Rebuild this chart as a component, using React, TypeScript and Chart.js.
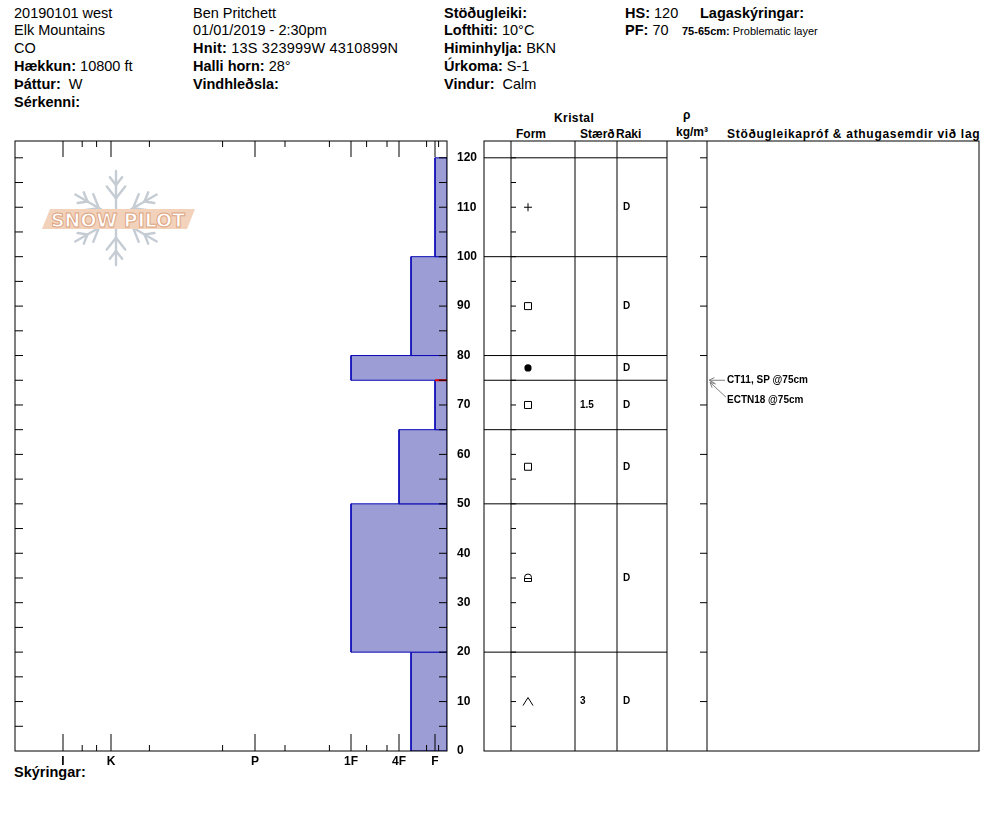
import React, { useEffect, useRef } from "react";
import { Chart, registerables } from "chart.js";
Chart.register(...registerables);

const FONT = "'Liberation Sans', Arial, Helvetica, sans-serif";

// ---------------- data ----------------
const layerTops = [120, 100, 80, 75, 65, 50, 20];
const layerBottoms = [100, 80, 75, 65, 50, 20, 0];
const layerHardness = [1, 3, 8, 1, 4, 8, 3];
const layerGrainForms = ["PP", "FC", "MF", "FC", "FC", "FCxr", "DH"];
const layerGrainSizes = ["", "", "", "1.5", "", "", "3"];
const layerMoisture = ["D", "D", "D", "D", "D", "D", "D"];

const hardnessTickValues = [32, 28, 16, 8, 4, 1];
const hardnessTickLabels = ["I", "K", "P", "1F", "4F", "F"];
const hardnessMinorTicks = [30.4, 29.2, 24.8, 18.7, 13.5, 9.8, 6.7, 5, 1.7, 0.7];

const testDepths = [75, 75];
const testLabels = ["CT11, SP @75cm", "ECTN18 @75cm"];

// ---------------- layout constants ----------------
const HMAX = 36;
const YMAX = 123.4;
const FILL = "rgb(157,157,214)";
const EDGE = "rgb(10,10,180)";
// table columns (x units = px offset from table left edge)
const COL_FORM = 27;
const COL_SIZE = 91;
const COL_RAKI = 133;
const COL_RHO = 183;
const COL_COMM = 223;
const COL_END = 495;

function zeroPad(s: any) {
  s.paddingTop = 0;
  s.paddingBottom = 0;
  s.paddingLeft = 0;
  s.paddingRight = 0;
}

function leftFramePlugin() {
  return {
    id: "leftFrame",
    afterDatasetsDraw(chart: any) {
      const { ctx, chartArea: a, scales } = chart;
      const x = scales.x, y = scales.y;
      ctx.save();
      ctx.strokeStyle = "#000";
      ctx.lineWidth = 1;
      ctx.strokeRect(a.left, a.top, a.right - a.left, a.bottom - a.top);
      ctx.beginPath();
      for (let d = 5; d <= 120; d += 5) {
        const py = y.getPixelForValue(d);
        ctx.moveTo(a.left, py);
        ctx.lineTo(a.left + 8, py);
        ctx.moveTo(a.right, py);
        ctx.lineTo(a.right - 8, py);
      }
      hardnessTickValues.forEach((v) => {
        const px = x.getPixelForValue(v);
        ctx.moveTo(px, a.top);
        ctx.lineTo(px, a.top + 16);
        ctx.moveTo(px, a.bottom);
        ctx.lineTo(px, a.bottom - 17);
      });
      hardnessMinorTicks.forEach((v) => {
        const px = x.getPixelForValue(v);
        ctx.moveTo(px, a.top);
        ctx.lineTo(px, a.top + 6);
        ctx.moveTo(px, a.bottom);
        ctx.lineTo(px, a.bottom - 6);
      });
      ctx.stroke();
      ctx.restore();
    },
  };
}

function drawGrain(ctx: CanvasRenderingContext2D, code: string, cx: number, cy: number) {
  ctx.beginPath();
  if (code === "PP") {
    ctx.moveTo(cx - 4, cy);
    ctx.lineTo(cx + 4, cy);
    ctx.moveTo(cx, cy - 4);
    ctx.lineTo(cx, cy + 4);
    ctx.stroke();
  } else if (code === "FC") {
    ctx.rect(cx - 3.5, cy - 3.5, 7, 7);
    ctx.stroke();
  } else if (code === "MF") {
    ctx.arc(cx, cy, 3.6, 0, Math.PI * 2);
    ctx.fill();
  } else if (code === "FCxr") {
    ctx.moveTo(cx - 3.5, cy + 3.5);
    ctx.lineTo(cx + 3.5, cy + 3.5);
    ctx.lineTo(cx + 3.5, cy - 0.5);
    ctx.arc(cx, cy - 0.5, 3.5, 0, Math.PI, true);
    ctx.lineTo(cx - 3.5, cy + 3.5);
    ctx.moveTo(cx - 3.5, cy + 0.5);
    ctx.lineTo(cx + 3.5, cy + 0.5);
    ctx.stroke();
  } else if (code === "DH") {
    ctx.moveTo(cx - 5, cy + 4);
    ctx.lineTo(cx, cy - 4);
    ctx.lineTo(cx + 5, cy + 4);
    ctx.stroke();
  }
}

function arrow(ctx: CanvasRenderingContext2D, x1: number, y1: number, x2: number, y2: number) {
  const a = Math.atan2(y2 - y1, x2 - x1);
  const L = 6, w = 0.45;
  ctx.beginPath();
  ctx.moveTo(x1, y1);
  ctx.lineTo(x2, y2);
  ctx.moveTo(x2 - L * Math.cos(a - w), y2 - L * Math.sin(a - w));
  ctx.lineTo(x2, y2);
  ctx.lineTo(x2 - L * Math.cos(a + w), y2 - L * Math.sin(a + w));
  ctx.stroke();
}

function tablePlugin() {
  return {
    id: "tableDraw",
    afterDatasetsDraw(chart: any) {
      const { ctx, chartArea: a, scales } = chart;
      const x = scales.x, y = scales.y;
      ctx.save();
      ctx.strokeStyle = "#000";
      ctx.fillStyle = "#000";
      ctx.lineWidth = 1;
      ctx.strokeRect(a.left, a.top, a.right - a.left, a.bottom - a.top);
      ctx.beginPath();
      [COL_FORM, COL_SIZE, COL_RAKI, COL_RHO, COL_COMM].forEach((c) => {
        const px = x.getPixelForValue(c);
        ctx.moveTo(px, a.top);
        ctx.lineTo(px, a.bottom);
      });
      const pf = x.getPixelForValue(COL_FORM);
      for (let d = 5; d <= 120; d += 5) {
        const py = y.getPixelForValue(d);
        ctx.moveTo(pf, py);
        ctx.lineTo(pf + 5, py);
      }
      const pc = x.getPixelForValue(COL_COMM);
      for (let d = 10; d <= 120; d += 10) {
        const py = y.getPixelForValue(d);
        ctx.moveTo(pc, py);
        ctx.lineTo(pc - 7, py);
      }
      ctx.stroke();

      ctx.font = `bold 10px ${FONT}`;
      ctx.textBaseline = "middle";
      ctx.textAlign = "left";
      layerTops.forEach((top, i) => {
        const mid = (top + layerBottoms[i]) / 2;
        const py = y.getPixelForValue(mid);
        drawGrain(ctx, layerGrainForms[i], x.getPixelForValue(44), py);
        if (layerGrainSizes[i]) ctx.fillText(layerGrainSizes[i], x.getPixelForValue(96), py);
        if (layerMoisture[i]) ctx.fillText(layerMoisture[i], x.getPixelForValue(139), py);
      });

      ctx.strokeStyle = "#808080";
      testDepths.forEach((d, i) => {
        const py = y.getPixelForValue(d);
        const ty = py + i * 20;
        ctx.fillStyle = "#000";
        ctx.fillText(testLabels[i], x.getPixelForValue(243), ty);
        if (i === 0) arrow(ctx, x.getPixelForValue(241), py, pc + 2, py);
        else arrow(ctx, x.getPixelForValue(242), ty - 3, pc + 3, py + 2);
      });
      ctx.restore();
    },
  };
}

function leftConfig(): any {
  const redTopHardness = testDepths.map((d) => {
    const idx = layerTops.indexOf(d);
    return idx >= 0 ? layerHardness[idx] : 0;
  });
  const marker = {
    data: [
      { x: 0, y: testDepths[0] },
      { x: redTopHardness[0], y: testDepths[0] },
    ],
    showLine: true,
    borderColor: "#e00000",
    borderWidth: 2,
    pointRadius: 0,
    fill: false,
  };
  const layers = layerTops.map((top, i) => {
    const bot = layerBottoms[i];
    const h = layerHardness[i];
    return {
      data: [
        { x: 0, y: top },
        { x: h, y: top },
        { x: h, y: bot },
        { x: 0, y: bot },
        { x: 0, y: top },
      ],
      showLine: true,
      fill: "shape",
      backgroundColor: FILL,
      borderColor: EDGE,
      borderWidth: 1,
      pointRadius: 0,
    };
  });
  return {
    type: "scatter",
    data: { datasets: [marker, ...layers] },
    options: {
      responsive: false,
      animation: false,
      events: [],
      layout: { padding: { left: 15, top: 11, right: 0, bottom: 19 } },
      plugins: { legend: { display: false }, tooltip: { enabled: false } },
      scales: {
        x: {
          type: "linear",
          position: "bottom",
          reverse: true,
          min: 0,
          max: HMAX,
          afterBuildTicks: (s: any) => {
            s.ticks = hardnessTickValues.map((v) => ({ value: v }));
          },
          afterFit: (s: any) => {
            s.height = 20;
            zeroPad(s);
          },
          grid: { display: false, drawTicks: false },
          border: { display: false },
          ticks: {
            autoSkip: false,
            maxRotation: 0,
            padding: 3,
            color: "#000",
            font: { size: 12, weight: "bold" },
            callback: (v: number) => hardnessTickLabels[hardnessTickValues.indexOf(v)],
          },
        },
        y: {
          type: "linear",
          position: "right",
          min: 0,
          max: YMAX,
          afterFit: (s: any) => {
            s.width = 37;
            zeroPad(s);
          },
          grid: { display: false, drawTicks: false },
          border: { display: false },
          ticks: {
            stepSize: 10,
            includeBounds: false,
            padding: 10,
            color: "#000",
            font: { size: 12, weight: "bold" },
          },
        },
      },
    },
    plugins: [leftFramePlugin()],
  };
}

function tableConfig(): any {
  const boundaries = layerTops.map((b) => ({
    data: [
      { x: 0, y: b },
      { x: COL_RHO, y: b },
    ],
    showLine: true,
    borderColor: "#000",
    borderWidth: 1,
    pointRadius: 0,
    fill: false,
  }));
  return {
    type: "scatter",
    data: { datasets: boundaries },
    options: {
      responsive: false,
      animation: false,
      events: [],
      layout: { padding: { left: 14, top: 11, right: 15, bottom: 39 } },
      plugins: { legend: { display: false }, tooltip: { enabled: false } },
      scales: {
        x: { type: "linear", display: false, min: 0, max: COL_END },
        y: { type: "linear", display: false, min: 0, max: YMAX },
      },
    },
    plugins: [tablePlugin()],
  };
}

const T = ({ x, b, s = 14.5, w = 400, ls = 0, children }: any) => (
  <div
    style={{
      position: "absolute",
      left: x,
      top: b - s * 0.9465,
      fontSize: s,
      lineHeight: `${s * 1.2}px`,
      fontWeight: w,
      letterSpacing: ls,
      whiteSpace: "nowrap",
      fontFamily: FONT,
      color: "#000",
    }}
  >
    {children}
  </div>
);

function Logo() {
  const cx = 116, cy = 218, R = 47;
  const lines: any[] = [];
  for (let k = 0; k < 6; k++) {
    const ang = ((k * 60 - 90) * Math.PI) / 180;
    const dx = Math.cos(ang), dy = Math.sin(ang);
    lines.push([cx, cy, cx + dx * R, cy + dy * R]);
    [
      [0.42, 15],
      [0.7, 10],
    ].forEach(([t, L]) => {
      const bx = cx + dx * R * t, by = cy + dy * R * t;
      [-1, 1].forEach((s) => {
        const a2 = ang + (s * 38 * Math.PI) / 180;
        lines.push([bx, by, bx + Math.cos(a2) * L, by + Math.sin(a2) * L]);
      });
    });
  }
  return (
    <svg style={{ position: "absolute", left: 0, top: 0 }} width={240} height={300}>
      <g stroke="#c5ccd3" strokeWidth={2.4} strokeLinecap="round">
        {lines.map((l, i) => (
          <line key={i} x1={l[0]} y1={l[1]} x2={l[2]} y2={l[3]} />
        ))}
      </g>
      <polygon points="50,209 195,209 187,229 42,229" fill="#f2d2bb" />
      <text
        x={51}
        y={226.5}
        fontFamily="'DejaVu Sans', sans-serif"
        fontWeight="bold"
        fontSize={20}
        fill="#ffffff"
        stroke="#dda37e"
        strokeWidth={1}
        textLength={134}
        lengthAdjust="spacingAndGlyphs"
      >
        SNOW PILOT
      </text>
    </svg>
  );
}

export default function App() {
  const leftRef = useRef<HTMLCanvasElement>(null);
  const tableRef = useRef<HTMLCanvasElement>(null);
  useEffect(() => {
    document.body.style.margin = "0";
    Chart.defaults.font.family = FONT;
    Chart.defaults.color = "#000";
    const left = new Chart(leftRef.current as HTMLCanvasElement, leftConfig());
    const table = new Chart(tableRef.current as HTMLCanvasElement, tableConfig());
    return () => {
      left.destroy();
      table.destroy();
    };
  }, []);

  const r = (i: number) => 18.3 + 17.8 * i;
  const B = ({ children }: any) => <b>{children}</b>;

  return (
    <div style={{ position: "relative", width: 994, height: 840, overflow: "hidden", background: "#fff", fontFamily: FONT }}>
      {/* header col 1 */}
      <T x={14} b={r(0)}>20190101 west</T>
      <T x={14} b={r(1)}>Elk Mountains</T>
      <T x={14} b={r(2)}>CO</T>
      <T x={14} b={r(3)}><B>Hækkun:</B> 10800 ft</T>
      <T x={14} b={r(4)}><B>Þáttur:</B>&nbsp; W</T>
      <T x={14} b={r(5)}><B>Sérkenni:</B></T>
      {/* col 2 */}
      <T x={193} b={r(0)}>Ben Pritchett</T>
      <T x={193} b={r(1)}>01/01/2019 - 2:30pm</T>
      <T x={193} b={r(2)} ls={0.2}><B>Hnit:</B> 13S 323999W 4310899N</T>
      <T x={193} b={r(3)}><B>Halli horn:</B> 28°</T>
      <T x={193} b={r(4)}><B>Vindhleðsla:</B></T>
      {/* col 3 */}
      <T x={444} b={r(0)}><B>Stöðugleiki:</B></T>
      <T x={444} b={r(1)}><B>Lofthiti:</B> 10°C</T>
      <T x={444} b={r(2)}><B>Himinhylja:</B> BKN</T>
      <T x={444} b={r(3)}><B>Úrkoma:</B> S-1</T>
      <T x={444} b={r(4)}><B>Vindur:</B>&nbsp; Calm</T>
      {/* col 4 */}
      <T x={625} b={r(0)}><B>HS:</B> 120</T>
      <T x={700} b={r(0)}><B>Lagaskýringar:</B></T>
      <T x={625} b={r(1)}><B>PF:</B> 70</T>
      <T x={682} b={35.5} s={11}><B>75-65cm:</B> Problematic layer</T>

      {/* table header */}
      <T x={554} b={122} s={12} w={700} ls={0.4}>Kristal</T>
      <T x={516} b={138} s={12} w={700}>Form</T>
      <T x={580} b={138} s={12} w={700}>Stærð</T>
      <T x={616} b={138} s={12} w={700}>Raki</T>
      <T x={683} b={119} s={12} w={700}>ρ</T>
      <T x={676} b={136} s={12} w={700}>kg/m³</T>
      <T x={727} b={138} s={12} w={700} ls={0.7}>Stöðugleikapróf &amp; athugasemdir við lag</T>

      <T x={14} b={778} w={700}>Skýringar:</T>

      <Logo />

      <div style={{ position: "absolute", left: 0, top: 130, width: 484, height: 660 }}>
        <canvas ref={leftRef} width={484} height={660} style={{ width: 484, height: 660, display: "block" }} />
      </div>
      <div style={{ position: "absolute", left: 470, top: 130, width: 524, height: 660 }}>
        <canvas ref={tableRef} width={524} height={660} style={{ width: 524, height: 660, display: "block" }} />
      </div>
    </div>
  );
}
